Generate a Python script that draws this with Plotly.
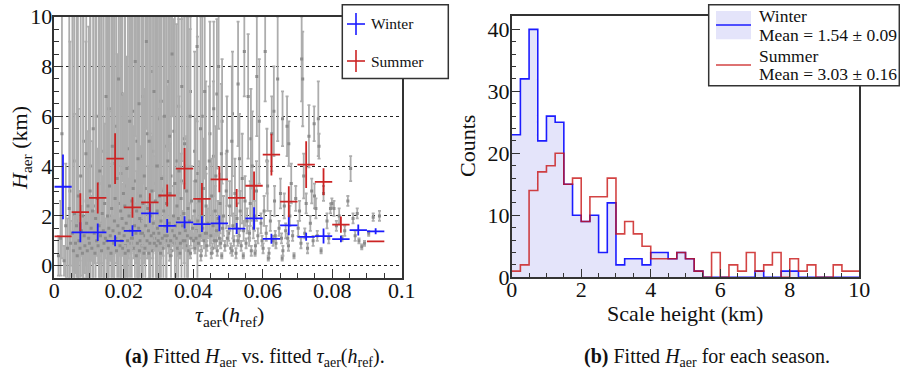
import plotly.graph_objects as go

# ---------------- data ----------------
# (a) individual fits: tau_aer(h_ref), H_aer (km), error on H_aer (km)
tau_pts = [
    0.0012, 0.0018, 0.0022, 0.0028, 0.0033, 0.0038, 0.0043, 0.0047,
    0.0052, 0.0055, 0.0058, 0.0061, 0.0064, 0.0066, 0.0069, 0.0071, 0.0074, 0.0076,
    0.0078, 0.0081, 0.0083, 0.0086, 0.0088, 0.0091, 0.0093, 0.0095, 0.0097, 0.0099,
    0.0101, 0.0103, 0.0106, 0.0108, 0.0110, 0.0112, 0.0115, 0.0117, 0.0119, 0.0122,
    0.0124, 0.0126, 0.0129, 0.0131, 0.0133, 0.0136, 0.0138, 0.0141, 0.0143, 0.0145,
    0.0147, 0.0149,
    0.0151, 0.0153, 0.0155, 0.0157, 0.0159, 0.0161, 0.0163, 0.0165, 0.0167, 0.0169,
    0.0171, 0.0173, 0.0175, 0.0177, 0.0179, 0.0181, 0.0183, 0.0185, 0.0187, 0.0189,
    0.0191, 0.0193, 0.0195, 0.0197, 0.0199, 0.0198,
    0.0201, 0.0203, 0.0205, 0.0207, 0.0209, 0.0211, 0.0213, 0.0215, 0.0217, 0.0219,
    0.0221, 0.0223, 0.0225, 0.0227, 0.0229, 0.0231, 0.0233, 0.0235, 0.0237, 0.0239,
    0.0241, 0.0243, 0.0245, 0.0246, 0.0247, 0.0248, 0.0249, 0.0244,
    0.0251, 0.0253, 0.0255, 0.0257, 0.0259, 0.0261, 0.0263, 0.0265, 0.0267, 0.0269,
    0.0271, 0.0273, 0.0275, 0.0277, 0.0279, 0.0281, 0.0283, 0.0285, 0.0287, 0.0289,
    0.0291, 0.0293, 0.0295, 0.0297, 0.0299, 0.0296, 0.0286, 0.0258,
    0.0301, 0.0303, 0.0305, 0.0307, 0.0309, 0.0311, 0.0313, 0.0315, 0.0317, 0.0319,
    0.0321, 0.0323, 0.0325, 0.0327, 0.0329, 0.0331, 0.0333, 0.0335, 0.0337, 0.0339,
    0.0341, 0.0343, 0.0345, 0.0347, 0.0349, 0.0332,
    0.0351, 0.0353, 0.0355, 0.0357, 0.0359, 0.0361, 0.0363, 0.0365, 0.0367, 0.0369,
    0.0371, 0.0373, 0.0375, 0.0377, 0.0379, 0.0381, 0.0383, 0.0385, 0.0387, 0.0389,
    0.0391, 0.0393, 0.0395, 0.0398,
    0.0401, 0.0403, 0.0405, 0.0407, 0.0409, 0.0411, 0.0413, 0.0415, 0.0417, 0.0419,
    0.0421, 0.0423, 0.0425, 0.0427, 0.0429, 0.0431, 0.0433, 0.0435, 0.0437, 0.0439,
    0.0442, 0.0446,
    0.0451, 0.0453, 0.0455, 0.0457, 0.0459, 0.0461, 0.0463, 0.0465, 0.0467, 0.0469,
    0.0471, 0.0473, 0.0475, 0.0477, 0.0479, 0.0481, 0.0484, 0.0487, 0.0491, 0.0495,
    0.0502, 0.0505, 0.0508, 0.0511, 0.0514, 0.0517, 0.0520, 0.0523, 0.0526, 0.0529,
    0.0532, 0.0535, 0.0538, 0.0541, 0.0545, 0.0549,
    0.0552, 0.0555, 0.0558, 0.0561, 0.0564, 0.0567, 0.0570, 0.0573, 0.0576, 0.0579,
    0.0582, 0.0586, 0.0590, 0.0595,
    0.0601, 0.0604, 0.0607, 0.0610, 0.0614, 0.0618, 0.0622, 0.0626, 0.0630, 0.0634,
    0.0638, 0.0643, 0.0647,
    0.0651, 0.0654, 0.0657, 0.0658, 0.0662, 0.0666, 0.0670, 0.0674, 0.0675, 0.0678,
    0.0682, 0.0686, 0.0690, 0.0695,
    0.0702, 0.0706, 0.0710, 0.0712, 0.0715, 0.0718, 0.0721, 0.0725, 0.0729, 0.0733,
    0.0737, 0.0741, 0.0745, 0.0748, 0.0749, 0.0753, 0.0757, 0.0760, 0.0762, 0.0768,
    0.0775, 0.0785, 0.0790, 0.0795, 0.0799,
    0.0805, 0.0812, 0.0820, 0.0828, 0.0836, 0.0845, 0.0853, 0.0860, 0.0866, 0.0872,
    0.0877, 0.0885, 0.0893, 0.0905, 0.0918, 0.0936,
]
H_pts = [
    0.4, 1.1, 5.3, 0.2, 1.6, 0.7, 2.3, 0.9,
    1.3, 0.6, 2.1, 0.9, 1.6, 0.4, 2.8, 1.0, 0.7, 3.6,
    1.4, 0.5, 2.0, 1.2, 0.8, 4.5, 1.7, 0.6, 2.4, 1.1,
    0.9, 3.0, 1.5, 0.7, 2.2, 5.5, 1.3, 0.5, 1.9, 1.0,
    2.7, 0.8, 1.6, 3.8, 1.2, 0.6, 2.1, 1.4, 0.9, 2.5,
    1.1, 6.8,
    1.0, 2.0, 0.7, 1.5, 3.2, 1.2, 0.5, 2.3, 4.8, 1.4,
    0.9, 1.8, 2.7, 1.1, 0.6, 3.5, 1.6, 7.5, 1.3, 0.8,
    2.2, 1.0, 1.9, 0.7, 2.9, 1.5,
    1.2, 2.4, 0.8, 1.7, 3.9, 1.0, 0.6, 2.0, 5.8, 1.4,
    0.9, 2.6, 1.1, 3.1, 0.7, 1.6, 8.2, 1.3, 2.2, 0.9,
    4.3, 1.5, 0.6, 1.9, 1.0, 2.8, 1.3, 6.5,
    1.8, 0.8, 2.5, 1.2, 3.6, 0.7, 1.6, 9.0, 1.0, 2.3,
    1.4, 5.0, 0.9, 2.0, 1.2, 3.0, 0.6, 1.7, 7.0, 1.1,
    2.6, 0.8, 4.0, 1.5, 1.0, 2.2, 1.3, 0.5,
    1.3, 2.8, 0.9, 1.8, 3.5, 1.1, 0.7, 2.2, 6.0, 1.5,
    1.0, 2.5, 1.2, 4.2, 0.8, 1.7, 2.9, 1.0, 0.6, 8.5,
    1.4, 2.0, 0.9, 3.3, 1.6, 5.2,
    1.1, 2.4, 0.7, 1.9, 3.8, 1.3, 0.9, 2.7, 7.2, 1.6,
    1.0, 2.1, 4.9, 1.4, 0.8, 3.0, 1.2, 2.3, 0.6, 1.8,
    6.0, 1.1, 2.6, 1.5,
    1.0, 2.2, 0.7, 3.4, 1.4, 8.8, 1.8, 0.9, 2.6, 1.2,
    5.5, 0.6, 2.0, 1.5, 3.1, 1.0, 7.0, 1.3, 2.4, 0.8,
    1.7, 4.2,
    1.2, 2.8, 0.7, 1.6, 6.3, 1.0, 2.2, 3.6, 1.4, 0.6,
    1.9, 8.0, 1.1, 2.5, 0.9, 4.5, 1.5, 2.0, 0.8, 3.0,
    1.3, 2.4, 0.7, 5.0, 1.6, 1.0, 2.9, 0.5, 1.9, 7.3,
    1.2, 2.2, 0.8, 3.5, 1.4, 2.6,
    0.9, 1.8, 6.8, 1.1, 2.5, 0.6, 4.0, 1.5, 2.0, 0.8,
    3.0, 1.2, 5.8, 1.7,
    0.7, 2.2, 8.6, 1.3, 3.2, 0.5, 1.8, 5.3, 1.0, 2.6,
    0.9, 7.5, 1.5,
    2.9, 1.1, 5.9, 0.6, 2.4, 1.4, 5.6, 0.8, 4.9, 2.0,
    3.3, 1.2, 0.4, 2.7,
    1.5, 2.2, 0.9, 8.3, 7.5, 3.6, 1.3, 2.5, 0.7, 5.2,
    1.7, 3.0, 1.0, 5.7, 2.8, 2.3, 1.2, 5.9, 4.8, 0.6,
    2.9, 1.8, 1.1, 2.3, 2.5,
    2.3, 1.6, 2.0, 1.1, 1.4, 2.6, 3.9, 1.9, 1.2, 2.1,
    1.0, 0.76, 0.9, 1.3, 1.95, 2.0,
]
H_err_pts = [
    0.8, 1.5, 5.0, 0.6, 2.5, 1.2, 8.0, 0.9,
    9.0, 0.8, 4.0, 1.2, 9.0, 0.7, 3.5, 2.0, 0.5, 7.0,
    1.0, 0.9, 9.0, 0.6, 1.1, 4.5, 2.2, 0.4, 3.0, 8.5,
    0.7, 7.5, 1.3, 0.5, 2.8, 5.0, 0.9, 0.4, 8.5, 0.6,
    2.0, 0.7, 1.2, 6.5, 0.5, 0.5, 1.5, 8.8, 0.4, 3.2,
    0.8, 4.0,
    0.5, 2.5, 0.6, 9.0, 3.0, 0.7, 0.3, 1.8, 6.0, 0.6,
    0.5, 8.5, 2.2, 0.4, 0.5, 5.0, 1.0, 3.5, 0.6, 0.4,
    9.0, 0.5, 1.4, 0.3, 4.0, 0.8,
    0.6, 8.0, 0.4, 1.2, 4.5, 0.5, 0.3, 1.5, 5.0, 0.7,
    0.4, 9.0, 0.5, 2.5, 0.4, 0.9, 3.0, 0.6, 1.6, 0.3,
    6.0, 0.7, 0.3, 9.0, 0.5, 2.0, 0.4, 4.5,
    1.1, 0.4, 9.0, 0.5, 3.5, 0.3, 0.8, 3.5, 0.4, 1.7,
    0.6, 5.5, 0.3, 8.5, 0.5, 2.2, 0.3, 0.9, 4.0, 0.4,
    1.8, 0.3, 6.0, 0.6, 0.4, 9.0, 0.5, 0.2,
    0.5, 3.5, 0.3, 8.5, 2.5, 0.4, 0.3, 1.4, 4.5, 0.6,
    0.3, 9.0, 0.4, 3.0, 0.3, 0.8, 2.0, 0.4, 0.2, 2.5,
    0.5, 1.2, 0.3, 7.5, 0.7, 5.0,
    0.4, 1.5, 0.3, 9.0, 3.0, 0.5, 0.3, 1.8, 3.0, 0.6,
    0.3, 1.2, 5.5, 0.4, 0.2, 2.2, 0.4, 8.0, 0.2, 0.7,
    3.5, 0.3, 1.4, 0.5,
    0.3, 1.2, 0.2, 2.5, 0.5, 3.0, 0.7, 0.3, 1.6, 0.4,
    4.5, 0.2, 0.9, 0.5, 2.0, 0.3, 3.5, 0.4, 1.3, 0.2,
    0.6, 3.0,
    0.3, 1.5, 0.2, 0.6, 3.5, 0.3, 1.0, 2.0, 0.4, 0.2,
    0.7, 2.5, 0.3, 1.2, 0.2, 2.8, 0.5, 0.8, 0.2, 1.5,
    0.3, 1.0, 0.2, 3.0, 0.5, 0.2, 1.4, 0.2, 0.6, 2.5,
    0.3, 0.8, 0.2, 1.8, 0.4, 1.0,
    0.2, 0.5, 2.5, 0.3, 0.9, 0.2, 2.2, 0.4, 0.6, 0.2,
    1.2, 0.3, 2.5, 0.4,
    0.2, 0.6, 2.0, 0.3, 1.0, 0.2, 0.4, 1.5, 0.2, 0.6,
    0.2, 2.5, 0.3,
    0.6, 0.2, 1.1, 0.2, 0.5, 0.3, 1.2, 0.2, 0.9, 0.4,
    0.8, 0.2, 0.1, 0.5,
    0.3, 0.4, 0.2, 1.7, 1.9, 0.9, 0.2, 0.4, 0.2, 1.25,
    0.3, 0.5, 0.2, 0.7, 0.5, 0.4, 0.2, 1.5, 0.5, 0.1,
    0.3, 0.3, 0.2, 0.2, 0.2,
    0.3, 0.2, 0.3, 0.1, 0.2, 0.2, 0.5, 0.2, 0.2, 0.2,
    0.1, 0.1, 0.1, 0.1, 0.15, 0.2,
]
# further fits: mostly poorly constrained (large errors) at low tau, plus the dense low-H band
tau_pts_more = [
    0.0045, 0.0057, 0.0068, 0.0084, 0.0092, 0.0104, 0.0113, 0.0121, 0.0128, 0.0135,
    0.0142, 0.0152, 0.0158, 0.0164, 0.0172, 0.0178, 0.0186, 0.0192, 0.0196, 0.0204,
    0.0212, 0.0218, 0.0226, 0.0232, 0.0238, 0.0242, 0.0252, 0.0256, 0.0262, 0.0268,
    0.0274, 0.0278, 0.0284, 0.0292, 0.0298, 0.0302, 0.0308, 0.0314, 0.0322, 0.0328,
    0.0336, 0.0344, 0.0352, 0.0358, 0.0366, 0.0374, 0.0382, 0.0392, 0.0404, 0.0412,
    0.0426, 0.0436, 0.0448, 0.0458, 0.0468, 0.0483, 0.0497, 0.0513, 0.0533, 0.0547,
    0.0566, 0.0583, 0.0612, 0.0632,
    0.0204, 0.0222, 0.0236, 0.0254, 0.0272, 0.0288, 0.0306, 0.0318, 0.0334, 0.0346,
    0.0362, 0.0376, 0.0392, 0.0408, 0.0422, 0.0438, 0.0452, 0.0466, 0.0482, 0.0498,
    0.0512, 0.0528, 0.0544, 0.0562, 0.0578, 0.0598, 0.0616, 0.0636, 0.0656, 0.0672,
]
H_pts_more = [
    3.0, 4.2, 1.8, 5.0, 2.6, 4.0, 2.4, 6.0, 3.3, 1.7,
    4.6, 3.0, 6.3, 2.0, 4.1, 5.6, 2.5, 3.7, 6.9, 3.2,
    4.7, 2.1, 6.2, 3.4, 5.0, 2.9, 4.4, 6.8, 3.1, 5.3,
    2.7, 7.8, 4.6, 3.3, 5.9, 4.0, 6.6, 3.0, 4.8, 7.4,
    3.6, 5.4, 4.2, 6.4, 3.4, 5.1, 4.0, 7.0, 4.6, 3.7,
    6.0, 3.9, 5.3, 4.4, 6.9, 5.8, 4.6, 6.1, 4.3, 8.6,
    5.1, 7.6, 4.2, 6.2,
    0.5, 1.1, 0.4, 1.3, 0.5, 0.9, 0.5, 1.2, 0.4, 1.2,
    0.5, 1.0, 0.5, 1.1, 0.4, 1.3, 0.5, 1.0, 0.4, 1.1,
    0.6, 1.0, 0.4, 1.3, 0.5, 1.0, 0.3, 1.2, 0.3, 1.1,
]
H_err_pts_more = [
    6.0, 6.5, 8.5, 5.5, 8.0, 6.5, 8.5, 4.5, 7.0, 9.0,
    6.0, 7.5, 4.0, 8.5, 6.5, 5.0, 8.0, 7.0, 3.5, 7.5,
    6.0, 8.5, 4.0, 7.0, 5.5, 8.0, 6.0, 3.5, 7.5, 5.0,
    8.0, 2.5, 5.5, 7.0, 4.5, 6.0, 3.5, 7.0, 5.5, 2.8,
    6.5, 4.5, 5.5, 3.5, 6.5, 5.0, 6.0, 3.0, 4.0, 5.5,
    4.0, 3.5, 4.5, 3.0, 3.0, 2.5, 2.2, 2.5, 1.8, 1.8,
    2.0, 2.4, 1.3, 1.8,
    0.3, 0.4, 0.3, 0.5, 0.2, 0.3, 0.2, 0.3, 0.2, 0.4,
    0.2, 0.3, 0.2, 0.3, 0.2, 0.3, 0.2, 0.3, 0.1, 0.3,
    0.2, 0.2, 0.1, 0.3, 0.1, 0.2, 0.1, 0.2, 0.1, 0.2,
]

# (a) seasonal profiles in tau bins
tau_bin_half = 0.0025
winter_tau = [0.0025, 0.0075, 0.0125, 0.0175, 0.0225, 0.0275, 0.0325, 0.0375, 0.0425, 0.0475,
              0.0525, 0.0575, 0.0625, 0.0675, 0.0725, 0.0775, 0.0825, 0.0875, 0.0925]
winter_H = [3.17, 1.34, 1.34, 1.00, 1.40, 2.10, 1.60, 1.74, 1.67, 1.70,
            1.49, 1.90, 1.08, 1.62, 1.16, 1.19, 1.07, 1.43, 1.38]
winter_Herr = [1.30, 0.40, 0.35, 0.22, 0.22, 0.38, 0.28, 0.25, 0.32, 0.32,
               0.22, 0.45, 0.20, 0.40, 0.16, 0.30, 0.13, 0.22, 0.12]
summer_tau = [0.0025, 0.0075, 0.0125, 0.0175, 0.0225, 0.0275, 0.0325, 0.0375, 0.0425, 0.0475,
              0.0525, 0.0575, 0.0625, 0.0675, 0.0725, 0.0775, 0.0825, 0.0925]
summer_H = [1.18, 2.15, 2.72, 4.30, 2.34, 2.54, 2.82, 3.90, 2.68, 3.47,
            2.72, 3.21, 4.46, 2.57, 4.06, 3.37, 1.65, 0.98]
summer_Herr = [0.0, 0.76, 0.62, 1.02, 0.41, 0.37, 0.44, 0.83, 0.64, 0.52,
               0.36, 0.57, 0.84, 0.62, 0.94, 0.54, 0.33, 0.0]

# (b) histogram of fitted scale heights, 0.25 km bins from 0 to 10 km
hist_start = 0.0
hist_bin_width = 0.25
winter_counts = [23, 32, 40, 22, 26, 25, 15, 10, 9, 10, 4, 12, 2, 3, 3, 2, 4, 4, 3, 4,
                 3, 1, 0, 0, 0, 0, 0, 0, 1, 0, 0, 1, 1, 0, 0, 0, 0, 0, 0, 0]
summer_counts = [1, 2, 14, 17, 18, 20, 15, 16, 9, 13, 13, 16, 7, 9, 7, 5, 3, 3, 3, 4,
                 3, 1, 0, 4, 0, 2, 1, 4, 1, 2, 4, 0, 3, 1, 2, 0, 0, 2, 1, 1]
winter_label = ["Winter", "Mean = 1.54 \u00b1 0.09"]
summer_label = ["Summer", "Mean = 3.03 \u00b1 0.16"]

# ---------------- styling helpers ----------------
W, Hh = 900, 376
def px(x):
    return x / W
def py(y):
    return 1 - y / Hh

FONT = "Liberation Serif, Times New Roman, serif"
BLUE = "#1c1cff"
RED = "#cc2424"
FRAME = "#333333"

edges = [hist_start + i * hist_bin_width for i in range(len(winter_counts) + 1)]

fig = go.Figure()

# gray individual fits (poorly constrained ones first, so the low-H band sits on top)
for tx, hy, he in [(tau_pts_more[:64], H_pts_more[:64], H_err_pts_more[:64]),
                   (tau_pts, H_pts, H_err_pts),
                   (tau_pts_more[64:], H_pts_more[64:], H_err_pts_more[64:])]:
    fig.add_trace(go.Scatter(
        x=tx, y=hy, mode="markers",
        marker=dict(symbol="square", size=3, color="#8c8c8c"),
        error_y=dict(type="data", array=he, color="#adadad", thickness=1.8, width=1.5),
        xaxis="x", yaxis="y", showlegend=False, hoverinfo="skip"))

for tx, hy, he, col in [(winter_tau, winter_H, winter_Herr, BLUE),
                        (summer_tau, summer_H, summer_Herr, RED)]:
    fig.add_trace(go.Scatter(
        x=tx, y=hy, mode="markers",
        marker=dict(size=1, color=col, opacity=0),
        error_x=dict(type="constant", value=tau_bin_half, color=col, thickness=1.8, width=0),
        error_y=dict(type="data", array=he, color=col, thickness=1.8, width=0),
        xaxis="x", yaxis="y", showlegend=False, hoverinfo="skip"))

# histograms
fig.add_trace(go.Scatter(
    x=edges, y=winter_counts + [winter_counts[-1]], mode="lines",
    line=dict(shape="hv", color=BLUE, width=1.6),
    fill="tozeroy", fillcolor="rgb(228,228,250)",
    xaxis="x2", yaxis="y2", showlegend=False, hoverinfo="skip"))
fig.add_trace(go.Scatter(
    x=edges, y=summer_counts + [summer_counts[-1]], mode="lines",
    line=dict(shape="hv", color="rgba(200,20,20,0.8)", width=1.6),
    xaxis="x2", yaxis="y2", showlegend=False, hoverinfo="skip"))

axis_common = dict(showline=True, mirror=True, linecolor=FRAME, linewidth=1.5,
                   ticks="inside", tickcolor=FRAME, tickwidth=1.2, automargin=False,
                   zeroline=False, tickfont=dict(family=FONT, size=22, color="#111"))
xlab = dict(ticklabelstandoff=-8)
ylab = dict(ticklabelstandoff=-4)

fig.update_layout(
    width=W, height=Hh, autosize=False,
    margin=dict(l=0, r=0, t=0, b=0, pad=0, autoexpand=False),
    paper_bgcolor="white", plot_bgcolor="white",
    showlegend=False,
    font=dict(family=FONT, size=22, color="#111"),
    xaxis=dict(domain=[px(54.3), px(401.7)], range=[0, 0.1], anchor="y",
               tickvals=[0, 0.02, 0.04, 0.06, 0.08, 0.1],
               ticktext=["0", "0.02", "0.04", "0.06", "0.08", "0.1"],
               ticklen=9, showgrid=False,
               minor=dict(dtick=0.005, ticklen=5, ticks="inside", tickcolor=FRAME, showgrid=False),
               **axis_common, **xlab),
    yaxis=dict(domain=[py(277.7), py(16.7)], range=[-0.482, 10], anchor="x",
               tickvals=[0, 2, 4, 6, 8, 10], ticklen=9,
               showgrid=True, gridcolor="#222", griddash="dot", gridwidth=1,
               minor=dict(dtick=0.5, ticklen=5, ticks="inside", tickcolor=FRAME, showgrid=False),
               **axis_common, **ylab),
    xaxis2=dict(domain=[px(511.7), px(859.3)], range=[0, 10], anchor="y2",
                tickvals=[0, 2, 4, 6, 8, 10], ticklen=9, showgrid=False,
                minor=dict(dtick=0.5, ticklen=5, ticks="inside", tickcolor=FRAME, showgrid=False),
                **axis_common, **xlab),
    yaxis2=dict(domain=[py(277.3), py(16.0)], range=[0, 42.15], anchor="x2",
                tickvals=[0, 10, 20, 30, 40], ticklen=9, showgrid=False,
                minor=dict(dtick=2, ticklen=5, ticks="inside", tickcolor=FRAME, showgrid=False),
                **axis_common, **ylab),
)

shapes = []
annotations = []

def text(x, y, s, size, xanchor="center", angle=0):
    annotations.append(dict(x=px(x), y=py(y), xref="paper", yref="paper", text=s,
                            showarrow=False, xanchor=xanchor, yanchor="middle",
                            textangle=angle, font=dict(family=FONT, size=size, color="#111")))

# axis titles
text(230, 316, "<i>\u03c4</i><sub>aer</sub>(<i>h</i><sub>ref</sub>)", 22)
text(21, 148, "<i>H</i><sub>aer</sub> (km)", 22, angle=-90)
text(685, 313, "Scale height (km)", 22)
text(467, 146, "Counts", 22, angle=-90)

# captions
text(255, 357, "<b>(a)</b> Fitted <i>H</i><sub>aer</sub> vs. fitted <i>\u03c4</i><sub>aer</sub>(<i>h</i><sub>ref</sub>).", 20)
text(707, 357, "<b>(b)</b> Fitted <i>H</i><sub>aer</sub> for each season.", 20)

# legend (a)
shapes.append(dict(type="rect", xref="paper", yref="paper", x0=px(342.3), x1=px(448.3),
                   y0=py(78.5), y1=py(4.7), line=dict(color=FRAME, width=1.5),
                   fillcolor="white", layer="above"))
for yc, col, lab in [(24, BLUE, "Winter"), (61, RED, "Summer")]:
    shapes.append(dict(type="line", xref="paper", yref="paper", x0=px(347), x1=px(365),
                       y0=py(yc), y1=py(yc), line=dict(color=col, width=1.6), layer="above"))
    shapes.append(dict(type="line", xref="paper", yref="paper", x0=px(356), x1=px(356),
                       y0=py(yc - 11), y1=py(yc + 11), line=dict(color=col, width=1.6), layer="above"))
    text(369, yc, lab, 15.5, xanchor="left")

# legend (b)
shapes.append(dict(type="rect", xref="paper", yref="paper", x0=px(708.7), x1=px(899.3),
                   y0=py(85.7), y1=py(4.7), line=dict(color=FRAME, width=1.5),
                   fillcolor="white", layer="above"))
shapes.append(dict(type="rect", xref="paper", yref="paper", x0=px(716), x1=px(751),
                   y0=py(39.3), y1=py(11), line=dict(width=0),
                   fillcolor="rgb(228,228,250)", layer="above"))
shapes.append(dict(type="line", xref="paper", yref="paper", x0=px(716), x1=px(751),
                   y0=py(25), y1=py(25), line=dict(color=BLUE, width=1.6), layer="above"))
shapes.append(dict(type="line", xref="paper", yref="paper", x0=px(716), x1=px(751),
                   y0=py(65), y1=py(65), line=dict(color="rgba(200,20,20,0.8)", width=1.6), layer="above"))
text(757, 16, winter_label[0], 17.5, xanchor="left")
text(757, 35, winter_label[1], 17.5, xanchor="left")
text(757, 56, summer_label[0], 17.5, xanchor="left")
text(757, 74, summer_label[1], 17.5, xanchor="left")

fig.update_layout(shapes=shapes, annotations=annotations)

fig.write_html(
    "out.html",
    config={"responsive": False, "displayModeBar": False},
    post_script=(
        "document.documentElement.style.margin='0';"
        "document.body.style.margin='0';"
        "document.body.style.padding='0';"
        "document.documentElement.style.overflow='hidden';"
    ),
)
